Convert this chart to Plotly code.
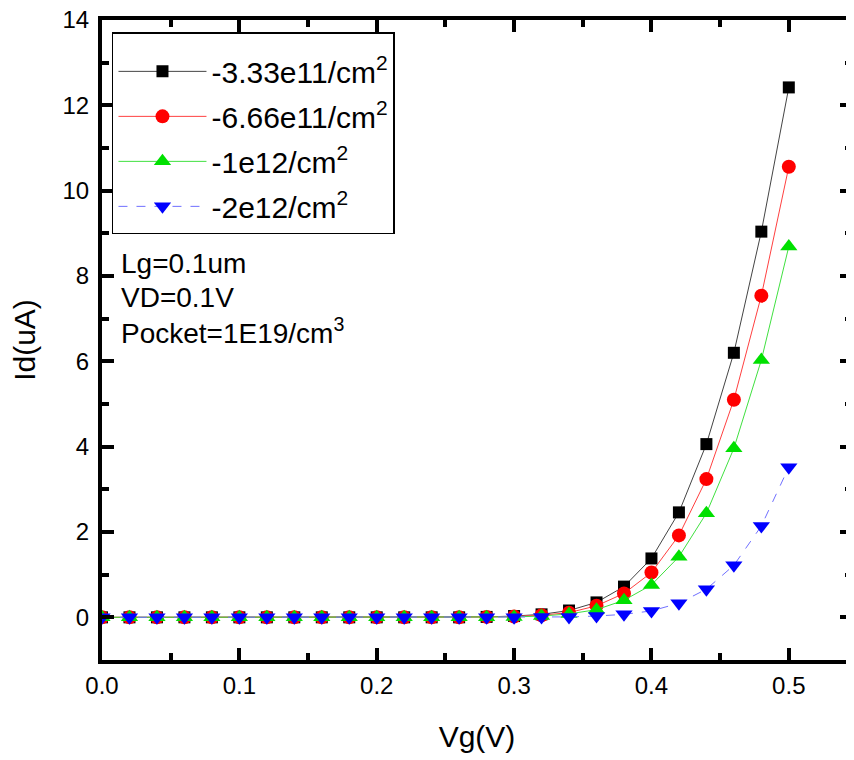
import plotly.graph_objects as go

vg = [0.00, 0.02, 0.04, 0.06, 0.08, 0.10, 0.12, 0.14, 0.16, 0.18, 0.20, 0.22, 0.24,
      0.26, 0.28, 0.30, 0.32, 0.34, 0.36, 0.38, 0.40, 0.42, 0.44, 0.46, 0.48, 0.50]

id_333e11 = [0, 0, 0, 0, 0, 0, 0, 0, 0, 0, 0, 0, 0, 0,
             0.01, 0.03, 0.07, 0.16, 0.35, 0.72, 1.38, 2.46, 4.06, 6.20, 9.04, 12.42]
id_666e11 = [0, 0, 0, 0, 0, 0, 0, 0, 0, 0, 0, 0, 0, 0,
             0.01, 0.02, 0.05, 0.11, 0.27, 0.56, 1.05, 1.92, 3.24, 5.10, 7.54, 10.56]
id_1e12 = [0, 0, 0, 0, 0, 0, 0, 0, 0, 0, 0, 0, 0, 0,
           0.0, 0.01, 0.03, 0.08, 0.18, 0.40, 0.76, 1.42, 2.44, 3.96, 6.03, 8.69]
id_2e12 = [0, 0, 0, 0, 0, 0, 0, 0, 0, 0, 0, 0, 0, 0,
           0.0, 0.0, 0.01, 0.01, 0.03, 0.07, 0.15, 0.33, 0.66, 1.22, 2.14, 3.52]

series_names = ["-3.33e11/cm<sup>2</sup>", "-6.66e11/cm<sup>2</sup>",
                "-1e12/cm<sup>2</sup>", "-2e12/cm<sup>2</sup>"]
series_values = [id_333e11, id_666e11, id_1e12, id_2e12]
marker_colors = ["#000000", "#FF0000", "#00E000", "#0000FF"]
line_colors = ["#444444", "#FF4040", "#40E040", "#7070FF"]
symbols = ["square", "circle", "triangle-up", "triangle-down"]
sizes = [12, 14, 15, 15]
dashes = ["solid", "solid", "solid", "dash"]

annot_lines = ["Lg=0.1um", "VD=0.1V", "Pocket=1E19/cm<sup>3</sup>"]

fig = go.Figure()
for i in range(4):
    fig.add_trace(go.Scatter(
        x=vg, y=series_values[i], name=series_names[i],
        mode="lines+markers", legendgroup=str(i),
        line=dict(color=line_colors[i], width=1, dash=dashes[i]),
        marker=dict(symbol=symbols[i], size=sizes[i], color=marker_colors[i],
                    line=dict(width=0)),
    ))

font_family = "Liberation Sans, Arial, sans-serif"

axis_common = dict(
    showline=True, linewidth=4, linecolor="black", mirror="allticks",
    ticks="inside", ticklen=12, tickwidth=4, tickcolor="black",
    showgrid=False, zeroline=False, automargin=False,
    ticklabeloverflow="allow",
    tickfont=dict(family=font_family, size=24, color="black"),
)

fig.update_xaxes(
    range=[0, 0.546], tick0=0, dtick=0.1, tickformat=".1f",
    minor=dict(ticks="inside", dtick=0.05, ticklen=7, tickwidth=4, tickcolor="black"),
    title=dict(text="Vg(V)", font=dict(family=font_family, size=30, color="black"),
               standoff=29),
    ticklabelstandoff=1,
    **axis_common,
)
fig.update_yaxes(
    range=[-1, 14], tick0=0, dtick=2,
    minor=dict(ticks="inside", dtick=1, ticklen=7, tickwidth=4, tickcolor="black"),
    title=dict(text="Id(uA)", font=dict(family=font_family, size=30, color="black"),
               standoff=20),
    ticklabelstandoff=4,
    **axis_common,
)

ys = [0.619, 0.567, 0.514]
for t, yy in zip(annot_lines, ys):
    fig.add_annotation(text=t, xref="paper", yref="paper", x=0.022, y=yy,
                       xanchor="left", yanchor="middle", showarrow=False,
                       font=dict(family=font_family, size=28, color="black"))

fig.update_layout(
    width=854, height=760,
    margin=dict(l=94, r=10, t=12, b=108),
    paper_bgcolor="white", plot_bgcolor="white",
    showlegend=True,
    legend=dict(x=0.0133, y=0.981, xanchor="left", yanchor="top",
                bgcolor="white", bordercolor="black", borderwidth=1.5,
                title=dict(text=" ", font=dict(size=9)),
                font=dict(family=font_family, size=30, color="black"),
                tracegroupgap=3, itemwidth=88),
)

fig.write_html("out.html")
